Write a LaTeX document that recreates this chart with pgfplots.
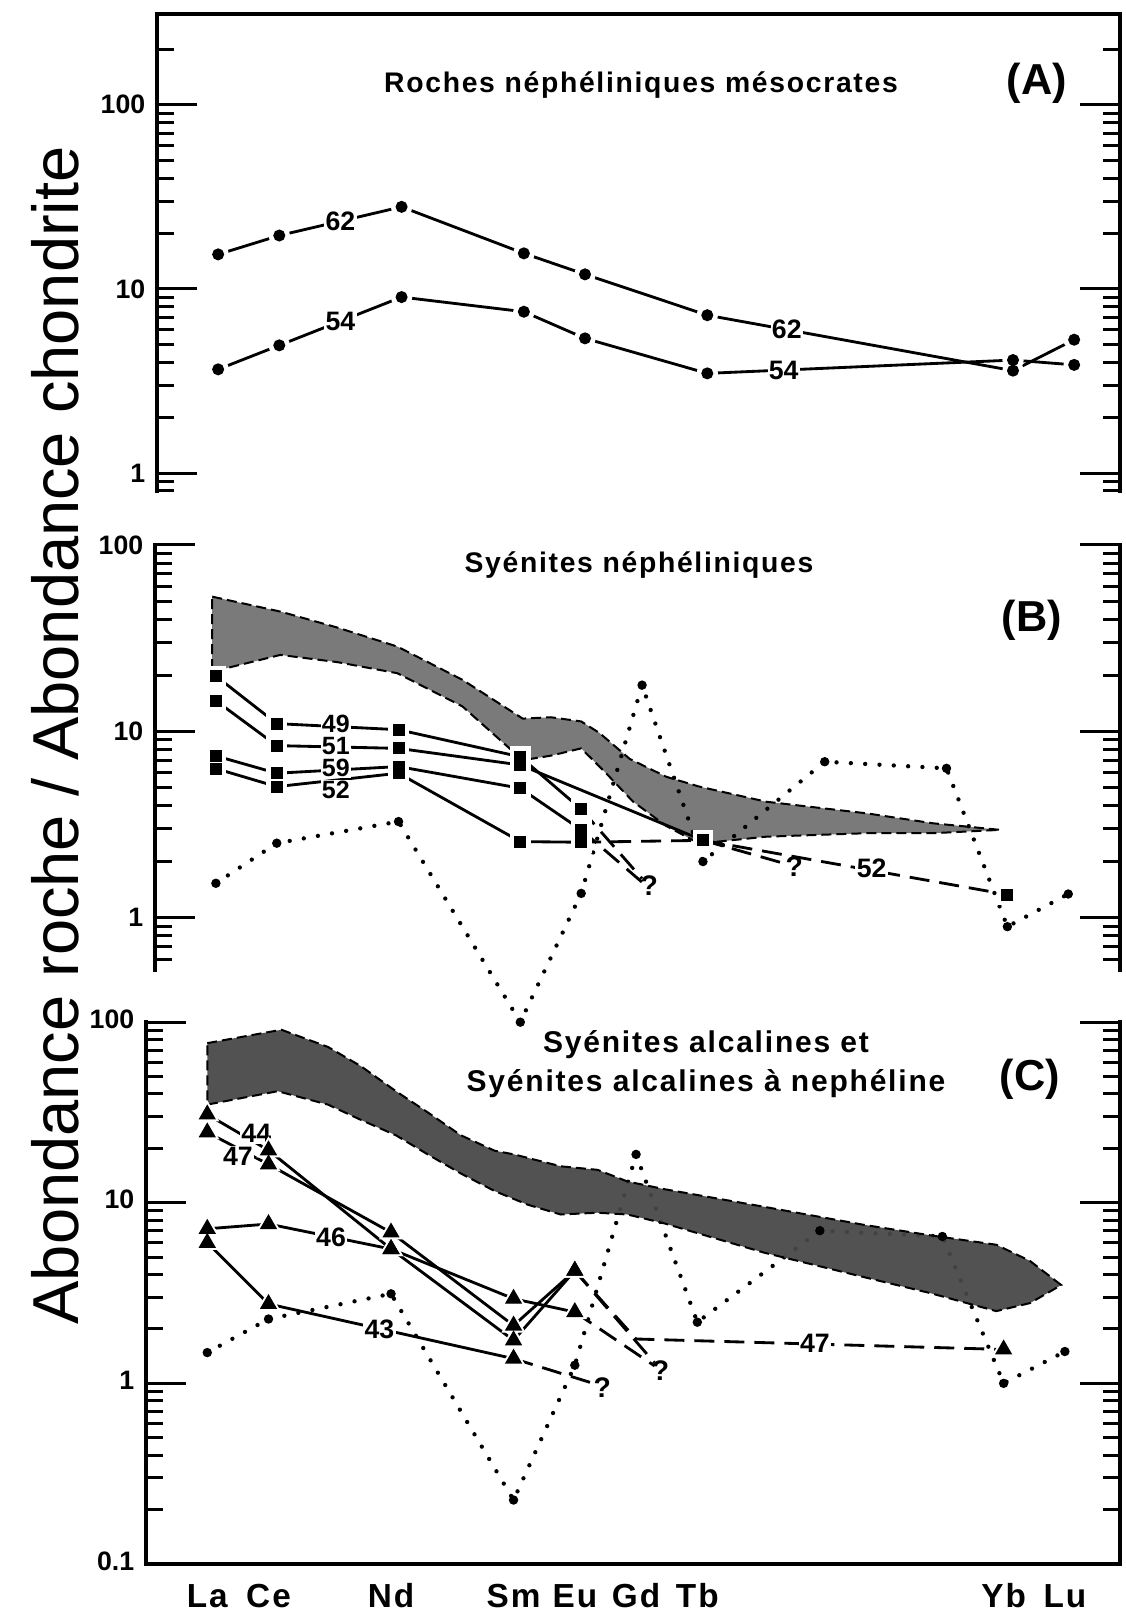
\documentclass[border=0pt]{standalone}
\usepackage{fontspec}
\setmainfont{Liberation Sans}
\newfontfamily\spacedbf[LetterSpace=6]{Liberation Sans}
\usepackage{pgfplots}
\usepackage{pgfplotstable}
\pgfplotsset{compat=1.18}

% ---------------- data ----------------
\pgfplotstableread{
x y
57 15.4
58 19.5
60 27.9
62 15.6
63 12.0
65 7.2
70 3.6
71 5.3
}\Asixtwo
\pgfplotstableread{
x y
57 3.66
58 4.94
60 9.03
62 7.52
63 5.39
65 3.48
70 4.11
71 3.87
}\Afivefour
\pgfplotstableread{
x y
57 19.8
58 11.0
60 10.2
62 7.3
63 3.82
}\Bfortynine
\pgfplotstableread{
x y
57 14.6
58 8.38
60 8.1
62 6.6
65 2.6
}\Bfiftyone
\pgfplotstableread{
x y
57 7.38
58 5.96
60 6.47
62 4.95
63 2.96
}\Bfiftynine
\pgfplotstableread{
x y
57 6.31
58 5.05
60 5.96
62 2.56
63 2.54
}\Bfiftytwo
\pgfplotstableread{
x y
57 1.53
58 2.51
60 3.28
62 0.275
63 1.35
64 17.7
65 2.0
67 6.87
69 6.33
70 0.895
71 1.34
}\Bdots
\pgfplotstableread{
x y
57 30.8
58 19.5
60 5.54
62 2.94
63 2.48
}\Cfortyfour
\pgfplotstableread{
x y
57 24.5
58 16.3
60 6.84
62 2.09
63 4.2
}\Cfortyseven
\pgfplotstableread{
x y
57 7.17
58 7.62
60 5.54
62 1.73
63 4.2
}\Cfortysix
\pgfplotstableread{
x y
57 6.0
58 2.75
62 1.37
}\Cfortythree
\pgfplotstableread{
x y
57 1.48
58 2.27
60 3.13
62 0.226
63 1.26
64 18.5
65 2.18
67 7.0
69 6.5
70 1.0
71 1.5
}\Cdots

\pgfplotsset{
  ln/.style={black, line width=0.85pt, mark=none},
  dsh/.style={black, line width=0.85pt, mark=none, dash pattern=on 6pt off 3pt},
  hdot/.style={only marks, mark=*, mark size=3.0pt, white},
  mdot/.style={only marks, mark=*, mark size=1.6pt, black},
  hsq/.style={only marks, mark=square*, mark size=2.9pt, white},
  msq/.style={only marks, mark=square*, mark size=1.6pt, black},
  htri/.style={only marks, mark=triangle*, mark size=3.8pt, white},
  mtri/.style={only marks, mark=triangle*, mark size=2.6pt, black},
  dotline/.style={black, line width=1.3pt, line cap=round, dash pattern=on 0pt off 4.3pt, mark=none},
  dmk/.style={only marks, mark=*, mark size=1.2pt, black},
  bandst/.style={draw=black, line width=0.6pt, dash pattern=on 3pt off 1.5pt, mark=none},
}
\tikzset{
  lab/.style={font=\bfseries\fontsize{8}{9}\selectfont, fill=white, inner sep=0.4pt},
  labB/.style={font=\bfseries\fontsize{7.5}{8}\selectfont, fill=white, inner sep=0.3pt},
  qm/.style={font=\bfseries\fontsize{8.5}{9}\selectfont, inner sep=0.5pt},
  axl/.style={line width=1pt, line cap=rect},
}

\begin{document}
\begin{tikzpicture}
\useasboundingbox (0,0) rectangle (337.5pt,483.6pt);

\node[rotate=90, font=\fontsize{19.5}{22}\selectfont] at (16.5pt,263pt) {Abondance roche / Abondance chondrite};

% ================= Panel A =================
\begin{axis}[ymode=log, scale only axis, anchor=south west, at={(47.1pt,336.3pt)},
  width=288.9pt, height=143.1pt, xmin=56, xmax=71.75, ymin=0.8, ymax=311,
  axis line style={draw=none}, clip=false, tick align=inside,
  major tick length=12pt, minor tick length=5pt,
  tick style={black, line width=0.9pt},
  ytick pos=both, yticklabel pos=left,
  yticklabel style={font=\bfseries\fontsize{8}{9}\selectfont},
  ytick={1,10,100}, yticklabels={1,10,100},
  minor ytick={0.8,0.9,2,3,4,5,6,7,8,9,20,30,40,50,60,70,80,90,200},
  xtick=\empty, minor xtick={57,58,60,62,64,65,70,71}, xtick pos=right]
\draw[axl] (rel axis cs:0,0) -- (rel axis cs:0,1) -- (rel axis cs:1,1) -- (rel axis cs:1,0);
\addplot[ln] table {\Asixtwo};
\addplot[ln] table {\Afivefour};
\addplot[hdot] table {\Asixtwo};
\addplot[hdot] table {\Afivefour};
\addplot[mdot] table {\Asixtwo};
\addplot[mdot] table {\Afivefour};
\node[lab] at (axis cs:59,23.3) {62};
\node[lab] at (axis cs:59,6.7) {54};
\node[lab] at (axis cs:66.3,6.0) {62};
\node[lab] at (axis cs:66.25,3.62) {54};
\end{axis}
\node[font=\spacedbf\bfseries\fontsize{8.5}{10}\selectfont] at (192.3pt,458pt) {Roches néphéliniques mésocrates};
\node[font=\bfseries\fontsize{13}{15}\selectfont] at (311.1pt,458.7pt) {(A)};

% ================= Panel B =================
\begin{axis}[ymode=log, scale only axis, anchor=south west, at={(46.5pt,192.6pt)},
  width=289.5pt, height=127.5pt, xmin=56, xmax=71.85, ymin=0.524, ymax=100,
  axis line style={draw=none}, clip=false, tick align=inside,
  major tick length=12pt, minor tick length=5pt,
  tick style={black, line width=0.9pt},
  ytick pos=both, yticklabel pos=left,
  yticklabel style={font=\bfseries\fontsize{8}{9}\selectfont},
  ytick={1,10,100}, yticklabels={1,10,100},
  minor ytick={0.6,0.7,0.8,0.9,2,3,4,5,6,7,8,9,20,30,40,50,60,70,80,90},
  xtick=\empty]
\draw[axl] (rel axis cs:0,0) -- (rel axis cs:0,1);
\draw[axl] (rel axis cs:1,0) -- (rel axis cs:1,1);
\addplot[bandst, fill=black!52] coordinates {
 (56.94,52.8) (58.06,43.9) (59.0,36.0) (59.98,28.5) (61.05,18.9) (62.04,11.7) (62.5,11.9) (63.0,11.3)
 (63.3,9.8) (63.8,7.1) (64.4,5.7) (64.94,5.05) (66.04,4.19) (67.69,3.63) (68.78,3.21) (69.88,2.96)
 (68.78,2.84) (67.69,2.84) (66.04,2.72) (64.94,2.5) (64.4,3.1) (63.85,4.2) (63.4,6.0) (63.0,8.1)
 (62.5,7.4) (62.04,7.0) (61.05,13.6) (59.98,20.5) (59.0,23.5) (58.06,25.7) (56.94,20.9)} -- cycle;
\addplot[dotline] table {\Bdots};
\addplot[dmk] table {\Bdots};
\addplot[ln] table {\Bfortynine};
\addplot[ln] table {\Bfiftyone};
\addplot[ln] table {\Bfiftynine};
\addplot[ln] table {\Bfiftytwo};
\addplot[dsh] coordinates {(63,3.82) (64.0,1.62)};
\addplot[dsh] coordinates {(63,2.96) (64.0,1.55)};
\addplot[dsh] coordinates {(63,2.54) (65,2.6)};
\addplot[dsh] coordinates {(65,2.6) (66.3,1.97)};
\addplot[dsh] coordinates {(65,2.6) (70,1.33)};
\addplot[hsq] table {\Bfortynine};
\addplot[hsq] table {\Bfiftyone};
\addplot[hsq] table {\Bfiftynine};
\addplot[hsq] table {\Bfiftytwo};
\addplot[hsq] coordinates {(70,1.33)};
\addplot[msq] table {\Bfortynine};
\addplot[msq] table {\Bfiftyone};
\addplot[msq] table {\Bfiftynine};
\addplot[msq] table {\Bfiftytwo};
\addplot[msq] coordinates {(70,1.33)};
\node[labB] at (axis cs:58.97,11.0) {49};
\node[labB] at (axis cs:58.97,8.3) {51};
\node[labB] at (axis cs:58.97,6.33) {59};
\node[labB] at (axis cs:58.97,4.83) {52};
\node[lab] at (axis cs:67.77,1.85) {52};
\node[qm] at (axis cs:64.12,1.48) {?};
\node[qm] at (axis cs:66.5,1.87) {?};
\end{axis}
\node[font=\spacedbf\bfseries\fontsize{8.5}{10}\selectfont] at (191.7pt,314.1pt) {Syénites néphéliniques};
\node[font=\bfseries\fontsize{13}{15}\selectfont] at (309.6pt,297.6pt) {(B)};

% ================= Panel C =================
\begin{axis}[ymode=log, scale only axis, anchor=south west, at={(43.8pt,14.4pt)},
  width=292.2pt, height=162.6pt, xmin=56, xmax=71.9, ymin=0.1, ymax=100,
  axis line style={draw=none}, clip=false, tick align=inside,
  major tick length=12pt, minor tick length=5pt,
  tick style={black, line width=0.9pt},
  ytick pos=both, yticklabel pos=left,
  yticklabel style={font=\bfseries\fontsize{8}{9}\selectfont},
  ytick={0.1,1,10,100}, yticklabels={0.1,1,10,100},
  minor ytick={0.2,0.3,0.4,0.5,0.6,0.7,0.8,0.9,2,3,4,5,6,7,8,9,20,30,40,50,60,70,80,90},
  xtick=\empty, minor xtick={57,58,60,62,63,64,65,70,71}, xtick pos=left,
  extra x ticks={57,58,60,62,63,64,65,70,71},
  extra x tick labels={La,Ce,Nd,Sm,Eu,Gd,Tb,Yb,Lu},
  extra x tick style={major tick length=0pt},
  typeset ticklabels with strut,
  xticklabel style={font=\spacedbf\bfseries\fontsize{10}{12}\selectfont, yshift=-1pt}]
\draw[axl] (rel axis cs:0,1) -- (rel axis cs:0,0) -- (rel axis cs:1,0) -- (rel axis cs:1,1);
\addplot[dotline] table {\Cdots};
\addplot[dmk] table {\Cdots};
\addplot[bandst, fill=black!72, fill opacity=0.94] coordinates {
 (57.0,76.4) (58.21,90.6) (58.97,72.8) (59.51,56.9) (60.08,41.4) (60.6,31.6) (61.14,23.6) (61.69,19.4)
 (62.01,18.5) (62.77,15.9) (63.37,15.2) (63.86,13.1) (64.45,11.9) (66.08,9.5) (67.71,7.55) (68.8,6.6)
 (69.88,5.85) (70.43,4.76) (70.94,3.5)
 (70.43,2.78) (69.88,2.51) (68.8,3.16) (67.71,3.88) (66.08,5.3) (64.45,7.7) (63.86,8.6) (63.37,8.8)
 (62.77,8.6) (62.23,9.75) (61.69,11.6) (61.14,14.5) (60.6,18.5) (60.08,23.6) (59.51,28.7) (58.97,34.9)
 (58.15,41.4) (57.0,34.9)} -- cycle;
\addplot[ln] table {\Cfortyfour};
\addplot[ln] table {\Cfortyseven};
\addplot[ln] table {\Cfortysix};
\addplot[ln] table {\Cfortythree};
\addplot[dsh] coordinates {(63,2.48) (64.3,1.25)};
\addplot[dsh] coordinates {(63,4.2) (64.3,1.3)};
\addplot[dsh] coordinates {(63,4.2) (64,1.76) (70,1.54)};
\addplot[dsh] coordinates {(62,1.37) (63.3,1.0)};
\addplot[htri] table {\Cfortyfour};
\addplot[htri] table {\Cfortyseven};
\addplot[htri] table {\Cfortysix};
\addplot[htri] table {\Cfortythree};
\addplot[htri] coordinates {(70,1.54)};
\addplot[mtri] table {\Cfortyfour};
\addplot[mtri] table {\Cfortyseven};
\addplot[mtri] table {\Cfortysix};
\addplot[mtri] table {\Cfortythree};
\addplot[mtri] coordinates {(70,1.54)};
\node[lab] at (axis cs:57.8,24.2) {44};
\node[lab] at (axis cs:57.5,18.0) {47};
\node[lab] at (axis cs:59.02,6.4) {46};
\node[lab] at (axis cs:59.81,1.99) {43};
\node[lab] at (axis cs:66.92,1.66) {47};
\node[qm] at (axis cs:63.45,0.95) {?};
\node[qm] at (axis cs:64.4,1.17) {?};
\end{axis}
\node[align=center, font=\spacedbf\bfseries\fontsize{9}{11.7}\selectfont] at (211.8pt,164.5pt) {Syénites alcalines et\\Syénites alcalines à nephéline};
\node[font=\bfseries\fontsize{13}{15}\selectfont] at (309pt,159.9pt) {(C)};
\end{tikzpicture}
\end{document}
